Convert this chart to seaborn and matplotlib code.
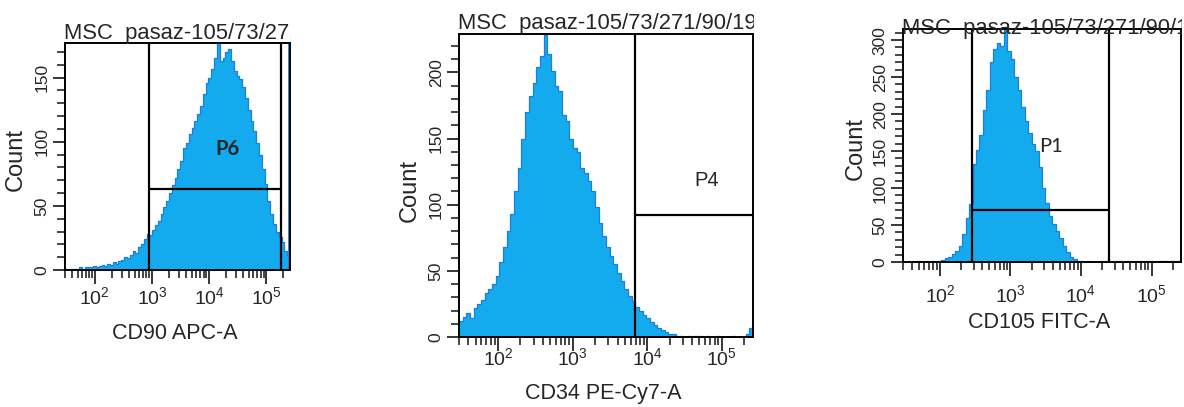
import numpy as np
import pandas as pd
import seaborn as sns
import matplotlib.pyplot as plt
from matplotlib.ticker import MultipleLocator, LogLocator
from matplotlib.transforms import Bbox, TransformedBbox

sns.set_style('ticks')
plt.rcParams['font.family'] = ['Liberation Sans', 'DejaVu Sans']

# cytometer log channel range, ~30 .. 262144 (log10 units)
log_lo, log_hi = 1.477, 5.418
n_bins = 80

title_text = 'MSC  pasaz-105/73/271/90/19'
x_labels = ['CD90 APC-A', 'CD34 PE-Cy7-A', 'CD105 FITC-A']
gate_names = ['P6', 'P4', 'P1']

# counts per bin (left to right)
cd90_counts = [1, 0, 1, 1, 1, 2, 1, 2, 2, 2,
               3, 2, 3, 4, 3, 5, 4, 6, 5, 7,
               8, 10, 9, 12, 15, 13, 18, 20, 24, 28,
               27, 31, 35, 38, 44, 49, 54, 60, 66, 72,
               79, 85, 95, 99, 106, 111, 116, 122, 128, 137,
               146, 150, 157, 165, 177, 163, 165, 170, 172, 163,
               155, 151, 149, 143, 134, 125, 116, 108, 99, 90,
               79, 67, 54, 44, 36, 30, 26, 22, 15, 12]
cd34_counts = [12, 15, 18, 14, 22, 25, 28, 33, 36, 40,
               46, 57, 68, 80, 93, 110, 128, 150, 170, 182,
               192, 204, 212, 228, 214, 201, 190, 186, 168, 163,
               150, 143, 140, 128, 124, 118, 110, 98, 86, 76,
               68, 61, 55, 48, 42, 36, 31, 27, 23, 20,
               17, 14, 11, 9, 7, 5, 4, 2, 2, 1,
               1, 0, 1, 0, 1, 1, 0, 1, 0, 0,
               1, 0, 0, 0, 1, 0, 0, 0, 2, 7]
cd105_counts = [0, 0, 0, 0, 1, 0, 0, 0, 1, 0,
                1, 3, 5, 7, 11, 15, 22, 38, 60, 78,
                132, 152, 172, 205, 232, 270, 288, 296, 292, 315,
                285, 274, 250, 232, 210, 190, 174, 160, 150, 128,
                100, 80, 62, 52, 42, 32, 21, 13, 7, 4,
                2, 1, 0, 1, 0, 0, 1, 0, 1, 0,
                0, 1, 1, 0, 1, 1, 0, 1, 1, 0,
                1, 1, 0, 1, 2, 1, 1, 1, 1, 2]

# gates: left edge, right edge, threshold level
gate_left = [890, 6900, 289]
gate_right = [1.8e5, 2.7e5, 2.5e4]
gate_level = [63, 92, 70]
gate_label_x = [2.1e4, 6.3e4, 3.7e3]
gate_label_y = [94, 118, 156]
y_tops = [177, 229, 315]

all_counts = [cd90_counts, cd34_counts, cd105_counts]

W, H = 1184, 407
# axes boxes in pixels: left, right, top, bottom
boxes = [(65, 290, 43, 270), (459, 753, 34, 337), (903, 1181, 29, 262)]
ylabel_x = [-0.169, -0.129, -0.13]
xlabel_y = [-0.233, -0.152, -0.215]
xtick_pad = [2, -3, 6]
title_base = [39, 29, 34]

fill_col = '#14aaee'
edge_col = '#1c80d8'

fig = plt.figure(figsize=(W / 100, H / 100), dpi=100)

edges = np.linspace(log_lo, log_hi, n_bins + 1)
centers = 10 ** ((edges[:-1] + edges[1:]) / 2)

for i in range(3):
    l, r, t, b = boxes[i]
    ax = fig.add_axes([l / W, 1 - b / H, (r - l) / W, (b - t) / H])
    df = pd.DataFrame({'value': centers, 'count': all_counts[i]})
    sns.histplot(data=df, x='value', weights='count', bins=edges.tolist(), log_scale=True,
                 element='step', fill=True, color=fill_col, alpha=1,
                 edgecolor=edge_col, linewidth=0.9, ax=ax)
    ax.set_xlim(10 ** log_lo, 10 ** log_hi)
    ax.set_ylim(0, y_tops[i])

    # gate lines
    ax.axvline(gate_left[i], color='black', lw=1.6)
    ax.axvline(gate_right[i], color='black', lw=1.6)
    ax.hlines(gate_level[i], gate_left[i], gate_right[i], color='black', lw=1.6)
    pfont = 'Lato' if i != 1 else 'Liberation Sans'
    ax.text(gate_label_x[i], gate_label_y[i], gate_names[i], fontsize=14.5,
            ha='center', va='center', family=pfont,
            fontweight='bold' if i == 0 else 'normal')
    if i == 0:
        # saturated events piled up at the top channel
        ax.axvline(2.5e5, color=edge_col, lw=2)

    for s in ax.spines.values():
        s.set_linewidth(1.4)
        s.set_color('black')

    ax.xaxis.set_major_locator(LogLocator(base=10, numticks=12))
    ax.xaxis.set_minor_locator(LogLocator(base=10, subs=np.arange(2, 10), numticks=12))
    ax.yaxis.set_major_locator(MultipleLocator(50))
    ax.yaxis.set_minor_locator(MultipleLocator(10))
    ax.tick_params(axis='y', which='major', length=9, width=1.3, pad=2,
                   labelsize=12.5, labelrotation=90)
    ax.tick_params(axis='y', which='minor', length=6, width=1.2)
    for lab in ax.get_yticklabels():
        lab.set_va('center')
        lab.set_family(['Liberation Sans Narrow', 'Liberation Sans'])
    ax.tick_params(axis='x', which='major', length=10, width=1.3,
                   pad=xtick_pad[i], labelsize=14)
    ax.tick_params(axis='x', which='minor', length=6, width=1.2)

    ax.set_ylabel('Count', fontsize=17)
    ax.yaxis.set_label_coords(ylabel_x[i], 0.485)
    ax.set_xlabel(x_labels[i], fontsize=15.5)
    ax.xaxis.set_label_coords(0.49, xlabel_y[i])

    tt = fig.text(l / W - 0.001, 1 - title_base[i] / H, title_text, fontsize=15.8,
                  ha='left', va='baseline')
    tt.set_clip_box(TransformedBbox(Bbox.from_extents(0, 0, (r + 1) / W, 1), fig.transFigure))
    tt.set_clip_on(True)

fig.savefig('out.png', dpi=100)
